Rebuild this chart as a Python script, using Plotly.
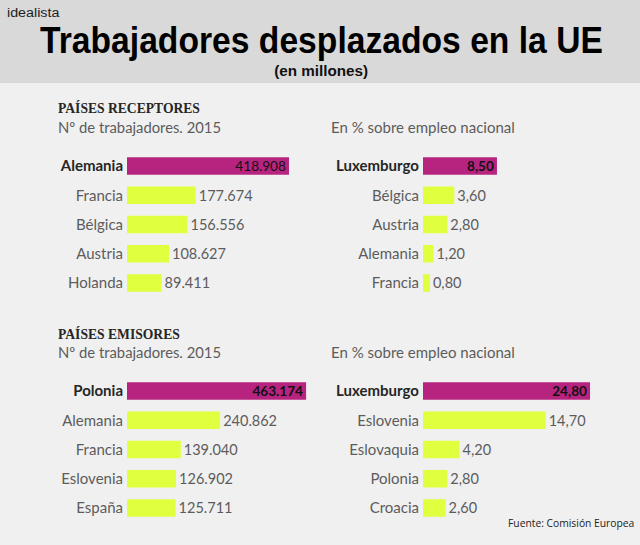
import plotly.graph_objects as go

W, H = 640, 545

# datos
rec_paises = ["Alemania", "Francia", "Bélgica", "Austria", "Holanda"]
rec_total = [418908, 177674, 156556, 108627, 89411]
rec_total_txt = ["418.908", "177.674", "156.556", "108.627", "89.411"]

rec_pct_paises = ["Luxemburgo", "Bélgica", "Austria", "Alemania", "Francia"]
rec_pct = [8.50, 3.60, 2.80, 1.20, 0.80]
rec_pct_txt = ["<b>8,50</b>", "3,60", "2,80", "1,20", "0,80"]

emi_paises = ["Polonia", "Alemania", "Francia", "Eslovenia", "España"]
emi_total = [463174, 240862, 139040, 126902, 125711]
emi_total_txt = ["<b>463.174</b>", "240.862", "139.040", "126.902", "125.711"]

emi_pct_paises = ["Luxemburgo", "Eslovenia", "Eslovaquia", "Polonia", "Croacia"]
# en el original las dos primeras barras no son proporcionales a su etiqueta
# (24,80 y 14,70): aqui va la longitud tal como esta dibujada
emi_pct_barra = [19.2, 14.1, 4.2, 2.8, 2.6]
emi_pct_txt = ["<b>24,80</b>", "14,70", "4,20", "2,80", "2,60"]

MORADO = "#b7247f"
LIMA = "#dfff3f"
GRIS = "#5c5c5c"
FUENTE = "Lato"


def px_x(v):
    return v / W


def px_y(v):
    return 1 - v / H


fig = go.Figure()

paneles = [
    (rec_paises, rec_total, rec_total_txt, 127, 166, 0.3867e-3),
    (rec_pct_paises, rec_pct, rec_pct_txt, 423, 166, 8.7),
    (emi_paises, emi_total, emi_total_txt, 127, 391, 0.3867e-3),
    (emi_pct_paises, emi_pct_barra, emi_pct_txt, 423, 391, 8.7),
]

for i, (paises, valores, textos, x0, y0, escala) in enumerate(paneles):
    n = "" if i == 0 else str(i + 1)
    ancho = 205
    etiquetas = [f"<b><span style='color:#262626'>{paises[0]}</span></b>"] + paises[1:]
    fig.add_trace(go.Bar(
        x=valores,
        y=paises,
        orientation="h",
        xaxis="x" + n,
        yaxis="y" + n,
        marker=dict(color=[MORADO] + [LIMA] * 4, line_width=0),
        text=textos,
        textposition=["inside"] + ["outside"] * 4,
        insidetextanchor="end",
        textangle=0,
        constraintext="none",
        cliponaxis=False,
        textfont=dict(family=FUENTE, size=[13.6] + [14.5] * 4, color=["#111111"] + [GRIS] * 4),
        hoverinfo="skip",
        width=0.6,
    ))
    fig.update_layout({
        "xaxis" + n: dict(
            domain=[px_x(x0), px_x(x0 + ancho)],
            range=[0, ancho / escala],
            visible=False,
            anchor="y" + n,
        ),
        "yaxis" + n: dict(
            domain=[px_y(y0 + 131.6), px_y(y0 - 14.6)],
            type="category",
            categoryorder="array",
            categoryarray=paises,
            range=[4.5, -0.5],
            tickmode="array",
            tickvals=paises,
            ticktext=etiquetas,
            tickfont=dict(family=FUENTE, size=15, color=GRIS),
            ticks="",
            ticklabelstandoff=3,
            showline=False,
            showgrid=False,
            zeroline=False,
            anchor="x" + n,
        ),
    })


def texto(x, y, s, fam, size, color, anchor="left", weight="normal"):
    fig.add_annotation(
        x=px_x(x), y=px_y(y), xref="paper", yref="paper", text=s, showarrow=False,
        xanchor=anchor, yanchor="middle", align=anchor,
        font=dict(family=fam, size=size, color=color, weight=weight),
    )


texto(5, 12, "idealista", "Liberation Sans", 13.5, "#222222")
texto(321, 40, "Trabajadores desplazados en la UE", "Liberation Sans", 37, "#000000", "center", "bold")
texto(321, 71, "(en millones)", "Liberation Sans", 14, "#111111", "center", "bold")

texto(56, 108, "<b>PAÍSES RECEPTORES</b>", "Liberation Serif", 13.6, "#262626")
texto(56, 127, "Nº de trabajadores. 2015", FUENTE, 14.8, GRIS)
texto(329, 127, "En % sobre empleo nacional", FUENTE, 15, GRIS)

texto(56, 334, "<b>PAÍSES EMISORES</b>", "Liberation Serif", 13.6, "#262626")
texto(56, 352, "Nº de trabajadores. 2015", FUENTE, 14.8, GRIS)
texto(329, 352, "En % sobre empleo nacional", FUENTE, 15, GRIS)

texto(506, 523, "Fuente: Comisión Europea", "Open Sans", 10.3, "#222222")

fig.update_layout(
    width=W,
    height=H,
    margin=dict(l=0, r=0, t=0, b=0),
    paper_bgcolor="#f0f0f0",
    plot_bgcolor="rgba(0,0,0,0)",
    showlegend=False,
    shapes=[dict(
        type="rect", xref="paper", yref="paper", x0=0, x1=1, y0=px_y(83), y1=1,
        fillcolor="#d9d9d9", line_width=0, layer="below",
    )],
)

# no hay fuente condensada instalada: se estrechan estos textos hasta su ancho
estrechar = """
document.body.style.margin = '0';
var anchos = {'Trabajadores': 563, '(en millones)': 94, 'idealista': 53};
document.querySelectorAll('.annotation-text').forEach(function (t) {
  Object.keys(anchos).forEach(function (k) {
    if (t.textContent.indexOf(k) === 0) {
      var b = t.getBBox();
      var c = k === 'idealista' ? b.x : b.x + b.width / 2;
      var s = anchos[k] / b.width;
      t.setAttribute('transform', 'translate(' + c + ',0) scale(' + s + ',1) translate(' + (-c) + ',0)');
    }
  });
});
"""

fig.write_html("out.html", config=dict(displayModeBar=False), post_script=estrechar)
